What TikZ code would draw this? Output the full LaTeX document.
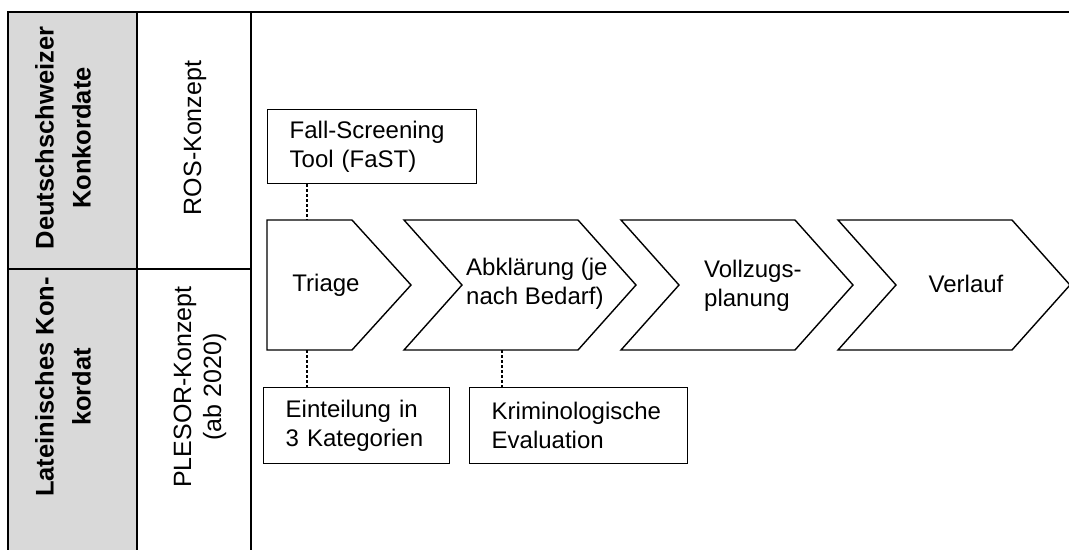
\documentclass[tikz,border=0pt]{standalone}
\usepackage{fontspec}
\setmainfont{Liberation Sans}
\usepackage{tikz}

\definecolor{headgray}{HTML}{D9D9D9}

\begin{document}
\begin{tikzpicture}[x=1pt,y=-1pt,
  frame/.style={line width=2pt},
  chev/.style={draw,line width=1.4pt,line join=miter},
  notebox/.style={draw,line width=1.4pt,anchor=north west,align=left,inner xsep=22pt,inner ysep=0pt,font=\fontsize{24}{29}\selectfont},
  steptext/.style={inner sep=0pt,align=left,font=\fontsize{24}{29}\selectfont},
  link/.style={line width=2.4pt,dash pattern=on 2.5pt off 2.5pt},
  head/.style={rotate=90,inner sep=0pt,align=center,font=\fontsize{25.5}{37}\selectfont\bfseries},
  concept/.style={rotate=90,inner sep=0pt,align=center,font=\fontsize{25}{30}\selectfont}]
\useasboundingbox (0,0) rectangle (1069,550);

% table frame
\fill[headgray] (8,12) rectangle (137,550);
\draw[frame] (1069,12) -- (8,12) -- (8,550);
\draw[frame] (137,12) -- (137,550);
\draw[frame] (251,12) -- (251,550);
\draw[frame] (8,269) -- (251,269);

\node[head] (dch) at (63,138) {Deutschschweizer\\Konkordate};
\node[head] (lat) at (63,387) {Lateinisches Kon-\\kordat};
\node[concept] (ros) at (195,138) {ROS-Konzept};
\node[concept] (plesor) at (200,387) {PLESOR-Konzept\\(ab 2020)};

% process steps
\draw[chev] (267,220) -- (352,220) -- (411,285) -- (352,350) -- (267,350) -- cycle;
\draw[chev] (404,220) -- ++(174,0) -- ++(58,65) -- ++(-58,65) -- ++(-174,0) -- ++(58,-65) -- cycle;
\draw[chev] (621,220) -- ++(174,0) -- ++(58,65) -- ++(-58,65) -- ++(-174,0) -- ++(58,-65) -- cycle;
\draw[chev] (838,220) -- ++(174,0) -- ++(58,65) -- ++(-58,65) -- ++(-174,0) -- ++(58,-65) -- cycle;

\node[steptext] (triage) at (326,285) {Triage};
\node[steptext,anchor=west] (abkl) at (466,284) {Abklärung (je\\nach Bedarf)};
\node[steptext,anchor=west] (vollzug) at (704,286) {Vollzugs-\\planung};
\node[steptext] (verlauf) at (966,284) {Verlauf};

\coordinate (triTop) at (307,220);
\coordinate (triBot) at (307,350);
\coordinate (abkBot) at (502,350);

% instruments
\node[notebox,text width=165pt,minimum height=74pt] (fast) at (267,109) {Fall-Screening\\Tool (FaST)};
\node[notebox,text width=142pt,minimum height=76pt] (kat) at (263,387) {Einteilung in\\3 Kategorien};
\node[notebox,text width=174pt,minimum height=76pt] (krim) at (469,387) {Kriminologische\\Evaluation};

\draw[link] (triTop |- fast.south) -- (triTop);
\draw[link] (triBot) -- (triBot |- kat.north);
\draw[link] (abkBot) -- (abkBot |- krim.north);
\end{tikzpicture}
\end{document}
